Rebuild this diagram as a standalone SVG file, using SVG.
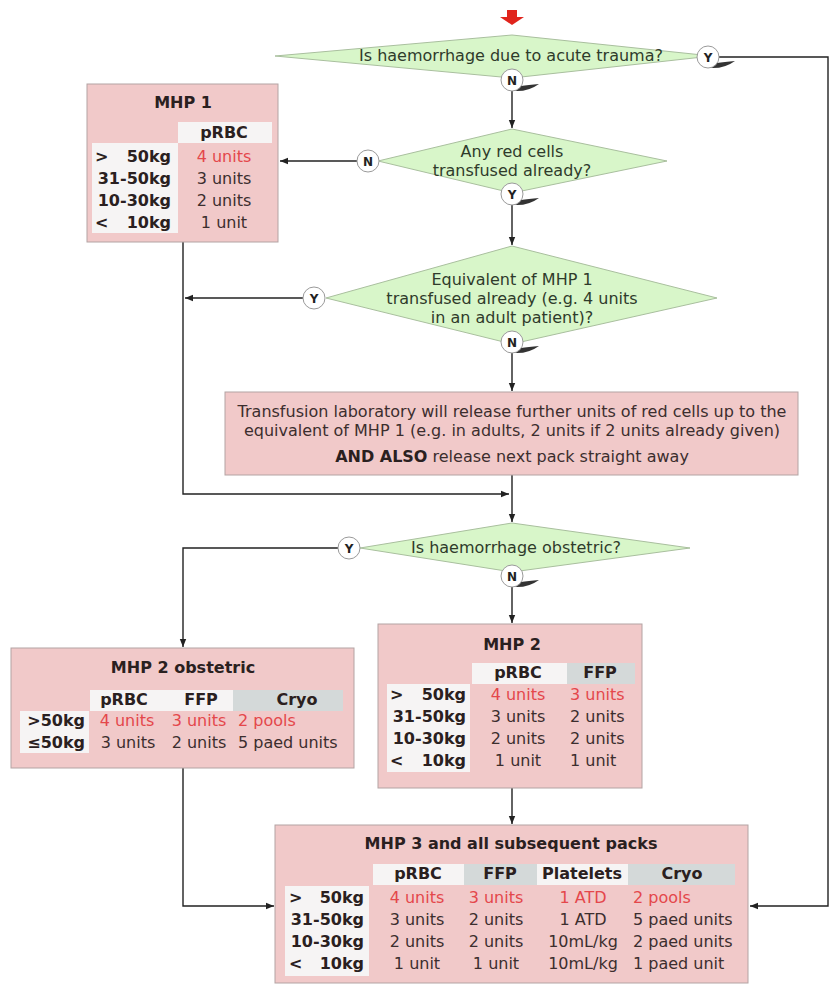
<svg xmlns="http://www.w3.org/2000/svg" width="831" height="985" viewBox="0 0 831 985">
<defs>
<marker id="ah" viewBox="0 0 10 10" refX="10" refY="5" markerWidth="8" markerHeight="8" orient="auto" markerUnits="userSpaceOnUse"><path d="M0,1 L10,5 L0,9 Z" fill="#222"/></marker>
<style>
text{font-family:"DejaVu Sans",Verdana,sans-serif;font-size:16px;fill:#3c2e2e}
.dia{fill:#d8f6c9;stroke:#a9bf9e;stroke-width:1}
.dt{fill:#2f3b2b;text-anchor:middle}
.box{fill:#f1c9c9;stroke:#b3a3a3;stroke-width:1}
.hw{fill:#f6f4f4}
.hg{fill:#d4d9d9}
.b{font-weight:bold;fill:#2a2020}
.m{text-anchor:middle}
.e{text-anchor:end}
.r{fill:#e4474b}
.circ{fill:#fff;stroke:#9a9a9a;stroke-width:1}
.sh{fill:#333}
.yn{font-size:12px;font-weight:bold;text-anchor:middle;fill:#222}
.cn{fill:none;stroke:#222;stroke-width:1.4}
</style>
</defs>
<rect width="831" height="985" fill="#fff"/>

<g id="start">
<rect x="507" y="10" width="10" height="8" fill="#e0241c"/>
<polygon points="500,17 524,17 512,25" fill="#e0241c"/>
</g>

<g id="connectors">
<path class="cn" d="M512,91 V128" marker-end="url(#ah)"/>
<path class="cn" d="M719,57 H828 V906 H750" marker-end="url(#ah)"/>
<path class="cn" d="M357,161 H280" marker-end="url(#ah)"/>
<path class="cn" d="M512,205 V245" marker-end="url(#ah)"/>
<path class="cn" d="M303,298 H185" marker-end="url(#ah)"/>
<path class="cn" d="M183,237 V494 H509" marker-end="url(#ah)"/>
<path class="cn" d="M512,353 V391" marker-end="url(#ah)"/>
<path class="cn" d="M512,475 V522" marker-end="url(#ah)"/>
<path class="cn" d="M338,548 H183 V647" marker-end="url(#ah)"/>
<path class="cn" d="M512,587 V623" marker-end="url(#ah)"/>
<path class="cn" d="M183,768 V906 H274" marker-end="url(#ah)"/>
<path class="cn" d="M512,788 V824" marker-end="url(#ah)"/>
</g>

<g id="d1">
<polygon class="dia" points="275,56 512,35 712,56 512,78"/>
<text class="dt" x="511" y="61">Is haemorrhage due to acute trauma?</text>
</g>
<g id="d1-y" transform="translate(708,57)"><path class="sh" d="M2,11 Q16,12 27,4 Q16,5 9,6 Z"/><circle class="circ" r="11"/><text class="yn" y="4.5">Y</text></g>
<g id="d1-n" transform="translate(512,80)"><path class="sh" d="M2,11 Q16,12 27,4 Q16,5 9,6 Z"/><circle class="circ" r="11"/><text class="yn" y="4.5">N</text></g>

<g id="mhp1">
<rect class="box" x="87" y="84" width="191" height="158"/>
<rect class="hw" x="178" y="122" width="94" height="21"/>
<rect class="hw" x="92" y="143" width="86" height="90"/>
<text class="b m" x="183" y="108">MHP 1</text>
<text class="b m" x="224" y="138">pRBC</text>
<text class="b" x="95" y="162">&gt;</text><text class="b e" x="171" y="162">50kg</text>
<text class="b e" x="171" y="184">31-50kg</text>
<text class="b e" x="171" y="206">10-30kg</text>
<text class="b" x="95" y="228">&lt;</text><text class="b e" x="171" y="228">10kg</text>
<text class="m r" x="224" y="162">4 units</text>
<text class="m" x="224" y="184">3 units</text>
<text class="m" x="224" y="206">2 units</text>
<text class="m" x="224" y="228">1 unit</text>
</g>

<g id="d2">
<polygon class="dia" points="378,161 512,129 667,161 512,193"/>
<text class="dt" x="512" y="157">Any red cells</text>
<text class="dt" x="512" y="176">transfused already?</text>
</g>
<g id="d2-n" transform="translate(368,161)"><circle class="circ" r="11"/><text class="yn" y="4.5">N</text></g>
<g id="d2-y" transform="translate(512,194)"><path class="sh" d="M2,11 Q16,12 27,4 Q16,5 9,6 Z"/><circle class="circ" r="11"/><text class="yn" y="4.5">Y</text></g>

<g id="d3">
<polygon class="dia" points="326,298 512,246 717,298 512,344"/>
<text class="dt" x="512" y="285">Equivalent of MHP 1</text>
<text class="dt" x="512" y="304">transfused already (e.g. 4 units</text>
<text class="dt" x="512" y="323">in an adult patient)?</text>
</g>
<g id="d3-y" transform="translate(314,298)"><circle class="circ" r="11"/><text class="yn" y="4.5">Y</text></g>
<g id="d3-n" transform="translate(512,342)"><path class="sh" d="M2,11 Q16,12 27,4 Q16,5 9,6 Z"/><circle class="circ" r="11"/><text class="yn" y="4.5">N</text></g>

<g id="lab">
<rect class="box" x="225" y="392" width="573" height="83"/>
<text class="m" x="512" y="417">Transfusion laboratory will release further units of red cells up to the</text>
<text class="m" x="512" y="436">equivalent of MHP 1 (e.g. in adults, 2 units if 2 units already given)</text>
<text class="m" x="512" y="462"><tspan class="b">AND ALSO</tspan> release next pack straight away</text>
</g>

<g id="d4">
<polygon class="dia" points="360,548 512,523 690,548 512,572"/>
<text class="dt" x="516" y="553">Is haemorrhage obstetric?</text>
</g>
<g id="d4-y" transform="translate(349,548)"><circle class="circ" r="11"/><text class="yn" y="4.5">Y</text></g>
<g id="d4-n" transform="translate(512,576)"><path class="sh" d="M2,11 Q16,12 27,4 Q16,5 9,6 Z"/><circle class="circ" r="11"/><text class="yn" y="4.5">N</text></g>

<g id="mhp2obs">
<rect class="box" x="11" y="648" width="343" height="120"/>
<rect class="hw" x="90" y="690" width="143" height="21"/>
<rect class="hg" x="233" y="690" width="110" height="21"/>
<rect class="hw" x="20" y="711" width="69" height="42"/>
<text class="b m" x="183" y="673">MHP 2 obstetric</text>
<text class="b m" x="124" y="705">pRBC</text>
<text class="b m" x="201" y="705">FFP</text>
<text class="b m" x="297" y="705">Cryo</text>
<text class="b e" x="85" y="726">&gt;50kg</text>
<text class="b e" x="85" y="748">≤50kg</text>
<text class="m r" x="127" y="726">4 units</text>
<text class="m r" x="199" y="726">3 units</text>
<text class="r" x="238" y="726">2 pools</text>
<text class="m" x="128" y="748">3 units</text>
<text class="m" x="199" y="748">2 units</text>
<text x="238" y="748">5 paed units</text>
</g>

<g id="mhp2">
<rect class="box" x="378" y="624" width="264" height="164"/>
<rect class="hw" x="472" y="663" width="95" height="21"/>
<rect class="hg" x="567" y="663" width="68" height="21"/>
<rect class="hw" x="387" y="684" width="83" height="88"/>
<text class="b m" x="512" y="650">MHP 2</text>
<text class="b m" x="518" y="678">pRBC</text>
<text class="b m" x="600" y="678">FFP</text>
<text class="b" x="390" y="700">&gt;</text><text class="b e" x="466" y="700">50kg</text>
<text class="b e" x="466" y="722">31-50kg</text>
<text class="b e" x="466" y="744">10-30kg</text>
<text class="b" x="390" y="766">&lt;</text><text class="b e" x="466" y="766">10kg</text>
<text class="m r" x="518" y="700">4 units</text>
<text class="m" x="518" y="722">3 units</text>
<text class="m" x="518" y="744">2 units</text>
<text class="m" x="518" y="766">1 unit</text>
<text class="r" x="570" y="700">3 units</text>
<text x="570" y="722">2 units</text>
<text x="570" y="744">2 units</text>
<text x="570" y="766">1 unit</text>
</g>

<g id="mhp3">
<rect class="box" x="275" y="825" width="473" height="158"/>
<rect class="hw" x="373" y="864" width="91" height="21"/>
<rect class="hg" x="464" y="864" width="73" height="21"/>
<rect class="hw" x="537" y="864" width="91" height="21"/>
<rect class="hg" x="628" y="864" width="107" height="21"/>
<rect class="hw" x="285" y="886" width="84" height="90"/>
<text class="b m" x="511" y="849">MHP 3 and all subsequent packs</text>
<text class="b m" x="418" y="879">pRBC</text>
<text class="b m" x="500" y="879">FFP</text>
<text class="b m" x="582" y="879">Platelets</text>
<text class="b m" x="682" y="879">Cryo</text>
<text class="b" x="289" y="903">&gt;</text><text class="b e" x="364" y="903">50kg</text>
<text class="b e" x="364" y="925">31-50kg</text>
<text class="b e" x="364" y="947">10-30kg</text>
<text class="b" x="289" y="969">&lt;</text><text class="b e" x="364" y="969">10kg</text>
<text class="m r" x="417" y="903">4 units</text>
<text class="m" x="417" y="925">3 units</text>
<text class="m" x="417" y="947">2 units</text>
<text class="m" x="417" y="969">1 unit</text>
<text class="m r" x="496" y="903">3 units</text>
<text class="m" x="496" y="925">2 units</text>
<text class="m" x="496" y="947">2 units</text>
<text class="m" x="496" y="969">1 unit</text>
<text class="m r" x="583" y="903">1 ATD</text>
<text class="m" x="583" y="925">1 ATD</text>
<text class="m" x="583" y="947">10mL/kg</text>
<text class="m" x="583" y="969">10mL/kg</text>
<text class="r" x="633" y="903">2 pools</text>
<text x="633" y="925">5 paed units</text>
<text x="633" y="947">2 paed units</text>
<text x="633" y="969">1 paed unit</text>
</g>
</svg>
